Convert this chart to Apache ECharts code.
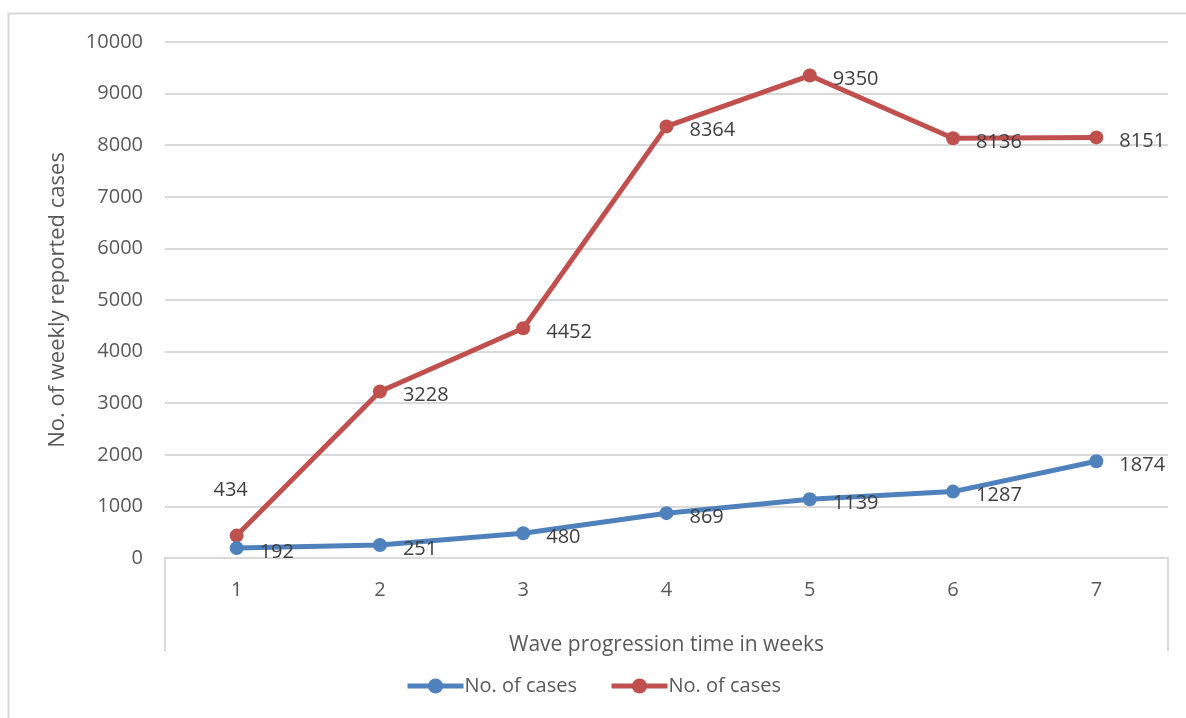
<!DOCTYPE html>
<html>
<head>
<meta charset="utf-8">
<script src="https://cdn.jsdelivr.net/npm/echarts@6/dist/echarts.min.js"></script>
<style>
  html, body { margin: 0; padding: 0; background: #fff; }
  #chart { width: 1186px; height: 718px; }
</style>
</head>
<body>
<div id="chart"></div>
<script>
const weeks = ['1', '2', '3', '4', '5', '6', '7'];
const blueCases = [192, 251, 480, 869, 1139, 1287, 1874];
const redCases = [434, 3228, 4452, 8364, 9350, 8136, 8151];
const yTicks = [0, 1000, 2000, 3000, 4000, 5000, 6000, 7000, 8000, 9000, 10000];

const font = '"Open Sans", "Liberation Sans", sans-serif';
const grey = '#595959';
const gridCol = '#d9d9d9';

const chart = echarts.init(document.getElementById('chart'));

// plot area in px (Excel style layout)
const L = 165, R = 1168, T = 42, B = 558;

const labelStyle = {
  show: true,
  position: 'right',
  distance: 16,
  color: '#404040',
  fontSize: 20,
  fontFamily: font,
  offset: [0, 4]
};

const options = {
  animation: false,
  textStyle: { fontFamily: font },
  grid: { left: L, right: 1186 - R, top: T, bottom: 718 - B },
  legend: {
    bottom: 17,
    left: 'center',
    itemWidth: 56,
    itemHeight: 19,
    itemGap: 32,
    lineStyle: { width: 5 },
    textStyle: { color: grey, fontSize: 20, fontFamily: font, padding: [0, 0, 0, -4] },
    data: [{ name: 'No. of cases' }, { name: 'No. of cases ' }],
    formatter: (n) => n.trim()
  },
  xAxis: {
    type: 'category',
    data: weeks,
    boundaryGap: true,
    name: 'Wave progression time in weeks',
    nameLocation: 'middle',
    nameGap: 77,
    nameTextStyle: { color: grey, fontSize: 21, fontFamily: font },
    axisLine: { lineStyle: { color: gridCol, width: 2 } },
    axisTick: { show: false },
    axisLabel: { color: grey, fontSize: 20, fontFamily: font, margin: 22 }
  },
  yAxis: {
    type: 'value',
    min: yTicks[0],
    max: yTicks[yTicks.length - 1],
    interval: 1000,
    name: 'No. of weekly reported cases',
    nameLocation: 'middle',
    nameGap: 96,
    nameTextStyle: { color: grey, fontSize: 22, fontFamily: font },
    axisLine: { show: false },
    axisTick: { show: false },
    axisLabel: { color: grey, fontSize: 20, fontFamily: font, margin: 22, formatter: (v) => String(v) },
    splitLine: { lineStyle: { color: gridCol, width: 2 } }
  },
  series: [
    {
      name: 'No. of cases',
      type: 'line',
      data: blueCases,
      symbol: 'circle',
      symbolSize: 14,
      itemStyle: { color: '#4f81bd' },
      lineStyle: { color: '#4f81bd', width: 5 },
      label: labelStyle,
      z: 3
    },
    {
      name: 'No. of cases ',
      type: 'line',
      data: redCases.map((v, i) => i === 0
        ? { value: v, label: { position: 'top', distance: 28, offset: [-6, 0] } }
        : v),
      symbol: 'circle',
      symbolSize: 14,
      itemStyle: { color: '#c0504d' },
      lineStyle: { color: '#c0504d', width: 5 },
      label: labelStyle,
      z: 2
    }
  ],
  graphic: [
    {
      type: 'rect',
      shape: { x: 8.5, y: 13.5, width: 1190, height: 720 },
      style: { fill: null, stroke: gridCol, lineWidth: 2 },
      silent: true
    },
    {
      type: 'line',
      shape: { x1: L, y1: B, x2: L, y2: 651 },
      style: { stroke: gridCol, lineWidth: 2 },
      silent: true
    },
    {
      type: 'line',
      shape: { x1: R, y1: B, x2: R, y2: 651 },
      style: { stroke: gridCol, lineWidth: 2 },
      silent: true
    }
  ]
};

chart.setOption(options);
</script>
</body>
</html>
